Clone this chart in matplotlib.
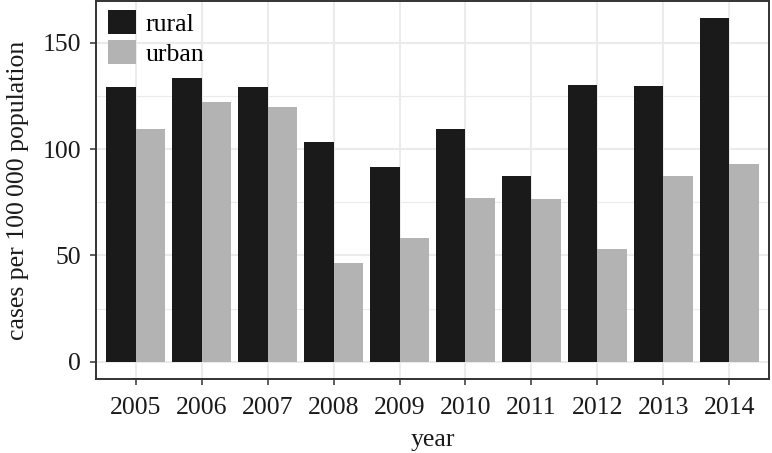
import matplotlib
matplotlib.use("Agg")
import matplotlib.pyplot as plt
import numpy as np
from matplotlib.patches import Patch
from matplotlib.ticker import MultipleLocator

years = ["2005", "2006", "2007", "2008", "2009", "2010", "2011", "2012", "2013", "2014"]
rural = [129.2, 133.5, 129.3, 103.2, 91.5, 109.4, 87.2, 130.1, 129.8, 161.5]
urban = [109.3, 122.0, 119.8, 46.4, 58.2, 77.0, 76.7, 52.8, 87.3, 93.1]
series_names = ["rural", "urban"]
colors = ["#1a1a1a", "#b3b3b3"]

plt.rcParams['font.family'] = ['Liberation Serif', 'DejaVu Serif']
FS = 18.5

W, H = 772, 453
fig = plt.figure(figsize=(W / 100, H / 100), dpi=100)
ax = fig.add_axes([96 / W, (453 - 379) / H, (769 - 96) / W, (379 - 1) / H])

x = np.arange(len(years))
bw = 0.45
ax.bar(x - bw / 2, rural, width=bw, color=colors[0], zorder=3, linewidth=0)
ax.bar(x + bw / 2, urban, width=bw, color=colors[1], zorder=3, linewidth=0)

ymax = max(max(rural), max(urban))
ax.set_ylim(-0.05 * ymax, ymax * 1.05)
ax.set_xlim(-0.6, len(years) - 0.4)

ax.set_xticks(x)
ax.set_xticklabels(years)
ax.yaxis.set_major_locator(MultipleLocator(50))
ax.yaxis.set_minor_locator(MultipleLocator(25))

ax.grid(which='major', color='#ebebeb', linewidth=1.5, zorder=0)
ax.grid(which='minor', axis='y', color='#ebebeb', linewidth=0.8, zorder=0)
ax.set_axisbelow(True)

for s in ax.spines.values():
    s.set_color('#333333')
    s.set_linewidth(1.4)

ax.tick_params(which='major', length=4, width=1.1, color='#333333',
               labelsize=FS, labelcolor='#1a1a1a')
ax.tick_params(axis='x', which='major', pad=9)
ax.tick_params(axis='y', which='major', pad=6.8)
ax.tick_params(which='minor', length=0)

ax.set_xlabel("year", fontsize=FS, color='#1a1a1a', labelpad=7)
ax.set_ylabel("cases per 100\u2009000 population", fontsize=FS, color='#1a1a1a', labelpad=9.5)

handles = [Patch(facecolor=colors[0], edgecolor='none'),
           Patch(facecolor=colors[1], edgecolor='none')]
leg = ax.legend(handles, series_names, loc='upper left',
                bbox_to_anchor=(11.7 / 673, 1 - 9 / 378), borderaxespad=0, borderpad=0,
                frameon=False, fontsize=FS, handlelength=1.09, handleheight=1.05,
                handletextpad=0.4, labelspacing=0.18)

fig.savefig("out.png", dpi=100)
